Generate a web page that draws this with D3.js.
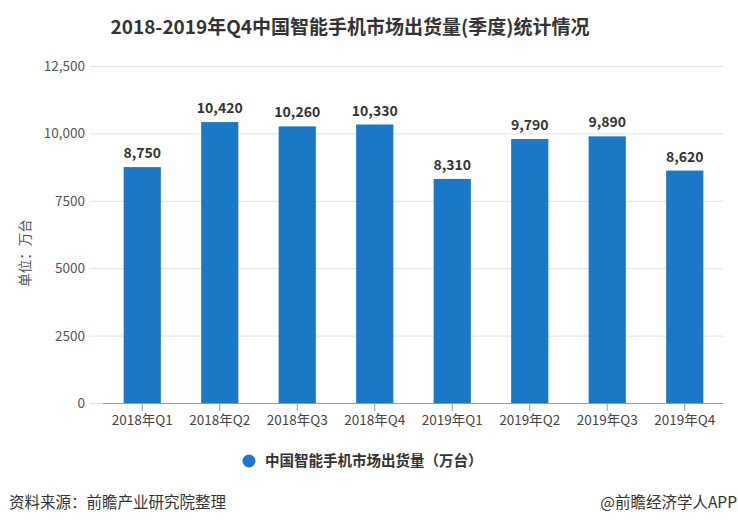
<!DOCTYPE html>
<html><head><meta charset="utf-8">
<script src="https://cdn.jsdelivr.net/npm/d3@7"></script>
<style>body{margin:0;background:#fff;}svg{display:block;font-family:"Noto Sans CJK SC","Microsoft YaHei",sans-serif;}</style>
</head><body>
<script>
const categories = ["2018年Q1","2018年Q2","2018年Q3","2018年Q4","2019年Q1","2019年Q2","2019年Q3","2019年Q4"];
const values = [8750,10420,10260,10330,8310,9790,9890,8620];
const yTicks = [0,2500,5000,7500,10000,12500];
const yTickLabels = ["0","2500","5000","7500","10,000","12,500"];
const seriesName = "中国智能手机市场出货量（万台）";
const title = "2018-2019年Q4中国智能手机市场出货量(季度)统计情况";

const W=738,H=528;
const svg=d3.select("body").append("svg").attr("width",W).attr("height",H);
const x=d3.scaleBand().domain(categories).range([103.5,723.5]).paddingInner(0.52).paddingOuter(0.26);
const y=d3.scaleLinear().domain([0,12500]).range([403,66]);
const color="#1a78c6";

svg.append("text").attr("x",350).attr("y",34).attr("text-anchor","middle")
  .attr("font-size",19).attr("font-weight","bold").attr("fill","#333").text(title);

// grid
svg.append("g").selectAll("line").data(yTicks).join("line")
  .attr("x1",90).attr("x2",723).attr("y1",d=>y(d)+0.5).attr("y2",d=>y(d)+0.5)
  .attr("stroke","#e2e2e2").attr("stroke-width",1);
svg.append("g").selectAll("text").data(yTicks).join("text")
  .attr("x",85).attr("y",d=>y(d)+5).attr("text-anchor","end")
  .attr("font-size",13.5).attr("fill","#555").text((d,i)=>yTickLabels[i]);

svg.append("text").attr("transform","translate(30,253) rotate(-90)").attr("text-anchor","middle")
  .attr("font-size",13.5).attr("fill","#555").text("单位：万台");

// bars
svg.append("g").selectAll("rect").data(values).join("rect")
  .attr("x",(d,i)=>x(categories[i])).attr("width",x.bandwidth())
  .attr("y",d=>y(d)).attr("height",d=>y(0)-y(d)).attr("fill",color);
svg.append("g").selectAll("text").data(values).join("text")
  .attr("x",(d,i)=>x(categories[i])+x.bandwidth()/2).attr("y",d=>y(d)-9)
  .attr("text-anchor","middle").attr("font-size",14).attr("font-weight","bold").attr("fill","#333")
  .text(d=>d3.format(",")(d));

// x axis
const xa=svg.append("g").attr("transform","translate(0,403)")
  .call(d3.axisBottom(x).tickSize(8).tickPadding(0).tickSizeOuter(0));
xa.select(".domain").attr("stroke","#999").attr("d","M103,0.5H723");
xa.selectAll(".tick line").attr("stroke","#999").attr("y1",0);
xa.selectAll(".tick text").attr("font-size",13.5).attr("fill","#444").attr("dy",null).attr("y",22)
  .attr("font-family",'"Noto Sans CJK SC",sans-serif');

// legend
svg.append("circle").attr("cx",249).attr("cy",461).attr("r",6.5).attr("fill",color);
svg.append("text").attr("x",265).attr("y",466).attr("font-size",14.5).attr("font-weight","bold")
  .attr("fill","#333").text(seriesName);

// footer
svg.append("text").attr("x",9).attr("y",508).attr("font-size",15.5).attr("fill","#333").text("资料来源：前瞻产业研究院整理");
svg.append("text").attr("x",737).attr("y",508).attr("text-anchor","end").attr("font-size",15.5).attr("fill","#333").text("@前瞻经济学人APP");
</script>
</body></html>
